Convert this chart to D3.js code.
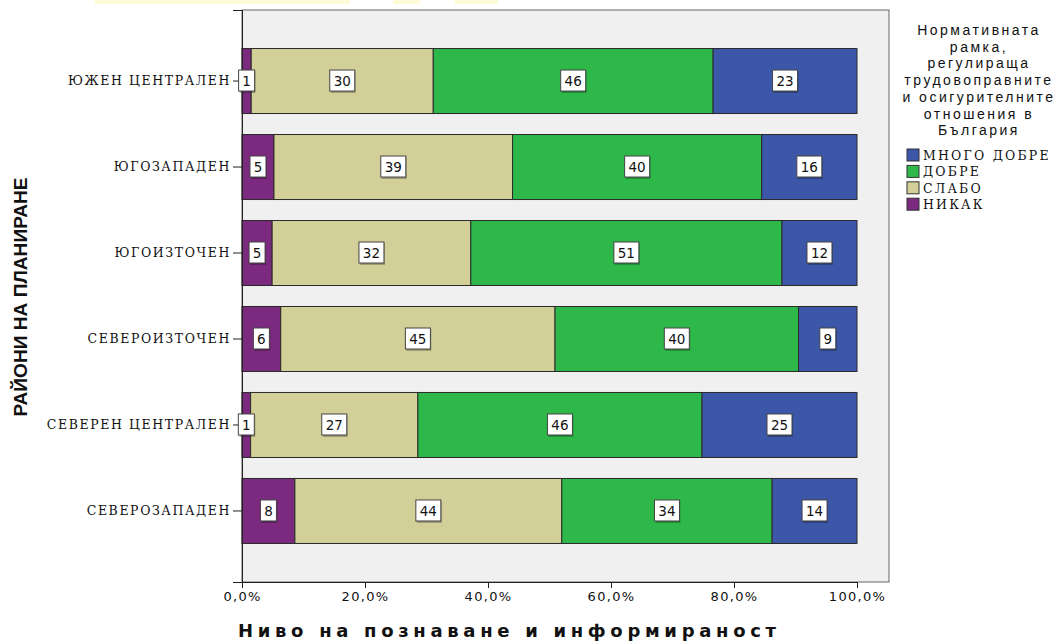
<!DOCTYPE html>
<html><head><meta charset="utf-8">
<script src="https://cdn.jsdelivr.net/npm/d3@7"></script>
<style>body{margin:0;background:#fff}svg{display:block}</style>
</head><body>
<svg id="c" width="1058" height="641"></svg>
<script>
const categories = ["ЮЖЕН ЦЕНТРАЛЕН","ЮГОЗАПАДЕН","ЮГОИЗТОЧЕН","СЕВЕРОИЗТОЧЕН","СЕВЕРЕН ЦЕНТРАЛЕН","СЕВЕРОЗАПАДЕН"];
const seriesNames = ["НИКАК","СЛАБО","ДОБРЕ","МНОГО ДОБРЕ"];
const nikak      = [1.5, 5.2, 4.9, 6.3, 1.4, 8.6];
const slabo      = [29.6, 38.8, 32.3, 44.6, 27.2, 43.4];
const dobre      = [45.5, 40.5, 50.6, 39.6, 46.2, 34.2];
const mnogoDobre = [23.4, 15.5, 12.2, 9.5, 25.2, 13.8];
const labelsNikak = ["1","5","5","6","1","8"];
const labelsSlabo = ["30","39","32","45","27","44"];
const labelsDobre = ["46","40","51","40","46","34"];
const labelsMnogo = ["23","16","12","9","25","14"];
const xTicks = [0,20,40,60,80,100];
const legendTitle = ["Нормативната","рамка,","регулираща","трудовоправните","и осигурителните","отношения в","България"];
const legendOrder = ["МНОГО ДОБРЕ","ДОБРЕ","СЛАБО","НИКАК"];
const colors = {"НИКАК":"#7b2a80","СЛАБО":"#d3cf98","ДОБРЕ":"#2fb84a","МНОГО ДОБРЕ":"#3c57a8"};

const svg = d3.select("#c");
const frame = {left:242, right:889, top:10, bottom:582};

svg.append("g").attr("fill","#fffad8").selectAll("rect")
  .data([[95,350],[393,420],[455,498]]).join("rect")
  .attr("x",d=>d[0]).attr("width",d=>d[1]-d[0]).attr("y",0).attr("height",4);

svg.append("rect").attr("x",frame.left).attr("y",frame.top)
  .attr("width",frame.right-frame.left).attr("height",frame.bottom-frame.top)
  .attr("fill","#f0f0f0").attr("stroke","#666").attr("stroke-width",1);

const x = d3.scaleLinear().domain([0,100]).range([242,857]);
const y = d3.scaleBand().domain(categories).range([frame.top,frame.bottom]).paddingInner(0.244).paddingOuter(0.448);

const rows = categories.map((c,i)=>({cat:c, "НИКАК":nikak[i], "СЛАБО":slabo[i], "ДОБРЕ":dobre[i], "МНОГО ДОБРЕ":mnogoDobre[i]}));
const labelMap = {"НИКАК":labelsNikak,"СЛАБО":labelsSlabo,"ДОБРЕ":labelsDobre,"МНОГО ДОБРЕ":labelsMnogo};
const stack = d3.stack().keys(seriesNames)(rows);

const gBars = svg.append("g");
stack.forEach(s=>{
  gBars.append("g").attr("fill",colors[s.key]).attr("stroke","#2a2a2a").attr("stroke-width",1)
    .selectAll("rect").data(s).join("rect")
    .attr("x",d=>x(d[0])).attr("width",d=>x(d[1])-x(d[0]))
    .attr("y",d=>y(d.data.cat)).attr("height",y.bandwidth());
});

const yAxis = svg.append("g").attr("transform",`translate(${frame.left},0)`)
  .call(d3.axisLeft(y).tickSize(9).tickPadding(2));
yAxis.select(".domain").attr("stroke","#222");
yAxis.selectAll(".tick line").attr("stroke","#222");
yAxis.selectAll("text").attr("font-family","DejaVu Serif").attr("font-size",12.5)
  .attr("letter-spacing","1.6px").attr("fill","#111");

const xAxis = svg.append("g").attr("transform",`translate(0,${frame.bottom})`)
  .call(d3.axisBottom(x).tickValues(xTicks).tickSize(6).tickPadding(4).tickFormat(d=>d3.format(".1f")(d).replace(".",",")+"%"));
xAxis.select(".domain").attr("stroke","#222");
xAxis.selectAll(".tick line").attr("stroke","#222");
xAxis.selectAll("text").attr("font-family","DejaVu Sans").attr("font-size",13).attr("fill","#111").attr("letter-spacing","1.3px");

const gLab = svg.append("g");
stack.forEach(s=>{
  s.forEach((d,i)=>{
    const cx = (x(d[0])+x(d[1]))/2;
    const cy = y(d.data.cat)+y.bandwidth()/2;
    const t = labelMap[s.key][i];
    const w = t.length===1 ? 16 : 25;
    gLab.append("rect").attr("x",cx-w/2+1).attr("y",cy-10).attr("width",w).attr("height",22)
      .attr("fill","rgba(0,0,0,0.25)");
    gLab.append("rect").attr("x",cx-w/2).attr("y",cy-11).attr("width",w).attr("height",21)
      .attr("fill","#fff").attr("stroke","#444").attr("stroke-width",1);
    gLab.append("text").attr("x",cx).attr("y",cy).attr("dy","0.36em").attr("text-anchor","middle")
      .attr("font-family","DejaVu Sans").attr("font-size",13.5).attr("fill","#111").text(t);
  });
});

svg.append("text").attr("x",507).attr("y",637).attr("text-anchor","middle")
  .attr("font-family","DejaVu Sans").attr("font-weight","bold").attr("font-size",18)
  .attr("textLength",538).attr("lengthAdjust","spacing")
  .attr("fill","#111").text("Ниво на познаване и информираност");
svg.append("text").attr("transform","translate(27,297) rotate(-90)").attr("text-anchor","middle")
  .attr("font-family","Liberation Sans").attr("font-weight","bold").attr("font-size",19)
  .attr("textLength",239).attr("lengthAdjust","spacing")
  .attr("fill","#111").text("РАЙОНИ НА ПЛАНИРАНЕ");

const lg = svg.append("g");
lg.selectAll("text.t").data(legendTitle).join("text").attr("class","t")
  .attr("x",979).attr("y",(d,i)=>35+i*16.7).attr("text-anchor","middle")
  .attr("font-family","Liberation Sans").attr("font-size",14).attr("letter-spacing","2.5px").attr("fill","#111").text(d=>d);
const li = lg.selectAll("g.i").data(legendOrder).join("g").attr("class","i")
  .attr("transform",(d,i)=>`translate(907,${149+i*16.4})`);
li.append("rect").attr("width",12).attr("height",12).attr("fill",d=>colors[d]).attr("stroke","#333");
li.append("text").attr("x",16).attr("y",6).attr("dy","0.38em").attr("font-family","DejaVu Serif")
  .attr("font-size",12.5).attr("letter-spacing","2.2px").attr("fill","#111").text(d=>d);
</script>
</body></html>
